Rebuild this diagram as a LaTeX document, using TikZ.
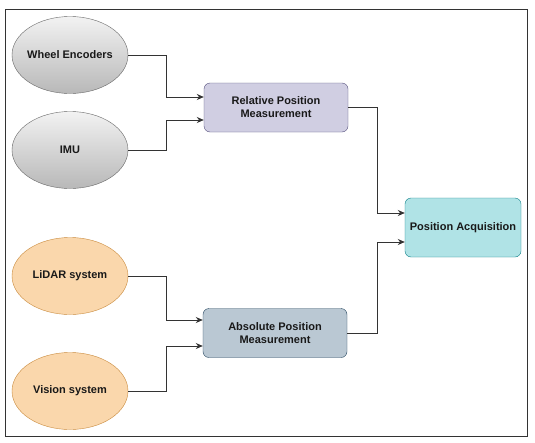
\documentclass[tikz,border=0pt]{standalone}
\usepackage{fontspec}
\setmainfont{Liberation Sans}
\usetikzlibrary{shapes.geometric,arrows.meta}
\definecolor{greyA}{HTML}{F2F2F2}
\definecolor{greyB}{HTML}{B8B8B8}
\definecolor{greyLine}{HTML}{666666}
\definecolor{orFill}{HTML}{FAD7AC}
\definecolor{orLine}{HTML}{C98A3C}
\definecolor{puFill}{HTML}{D0CEE2}
\definecolor{puLine}{HTML}{56517E}
\definecolor{blFill}{HTML}{BAC8D3}
\definecolor{blLine}{HTML}{23445D}
\definecolor{tqFill}{HTML}{B0E3E6}
\definecolor{tqLine}{HTML}{0E8088}
\definecolor{conn}{HTML}{333333}
\begin{document}
\begin{tikzpicture}[x=1pt,y=-1pt,
  lbl/.style={font=\fontsize{11}{13}\selectfont\bfseries, text=black!90, align=center},
  ell/.style={ellipse, minimum width=116pt, minimum height=77pt, inner xsep=-6pt, inner ysep=0pt, lbl},
  greyell/.style={ell, draw=greyLine, top color=greyA, bottom color=greyB},
  orell/.style={ell, draw=orLine, fill=orFill},
  box/.style={rounded corners=6pt, minimum width=144pt, minimum height=49pt, inner sep=0pt, lbl},
  conn/.style={draw=conn, line width=0.9pt, -{Stealth[length=7pt,width=6pt]}}
]
\useasboundingbox (0,0) rectangle (535,442);
\fill[white] (0,0) rectangle (535,442);
\node[draw=black!80, line width=0.8pt, minimum width=522pt, minimum height=427pt, inner sep=0pt] (frame) at (266.5,222.5) {};

\node[greyell] (we) at (70,55) {Wheel Encoders};
\node[greyell] (imu) at (70,150) {IMU};
\node[orell] (lidar) at (70,276) {LiDAR system};
\node[orell] (vis) at (70,391) {Vision system};

\node[box, draw=puLine, fill=puFill] (rel) at (276,107.5) {Relative Position\\Measurement};
\node[box, draw=blLine, fill=blFill] (abs) at (275,333) {Absolute Position\\Measurement};
\node[box, draw=tqLine, fill=tqFill, minimum width=116pt, minimum height=59pt] (pa) at (463,227.5) {Position Acquisition};

\draw[conn] (we.east) -| (166,97) -- (rel.west |- 0,97);
\draw[conn] (imu.east) -| (166,120) -- (rel.west |- 0,120);
\draw[conn] (lidar.east) -| (166,320) -- (abs.west |- 0,320);
\draw[conn] (vis.east) -| (166,346) -- (abs.west |- 0,346);
\draw[conn] (rel.east) -| (377,213) -- (pa.west |- 0,213);
\draw[conn] (abs.east) -| (377,242) -- (pa.west |- 0,242);
\end{tikzpicture}
\end{document}
